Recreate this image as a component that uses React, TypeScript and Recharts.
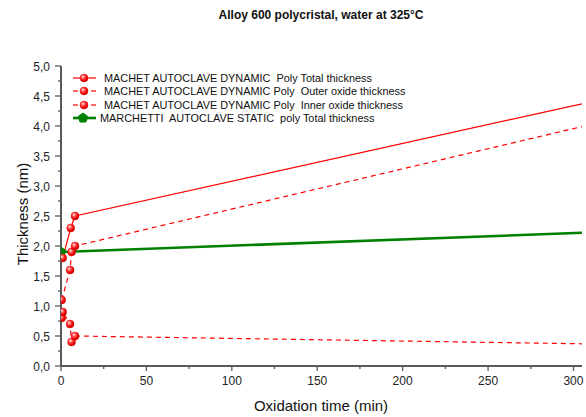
import { LineChart, Line, XAxis, YAxis, Legend } from 'recharts';

// Alloy 600 oxide thickness vs oxidation time
const totalTime = [1, 5.7, 8.2, 305];
const totalThickness = [1.8, 2.3, 2.5, 4.37];

const outerTime = [0.4, 5.3, 6.2, 8.2, 305];
const outerThickness = [1.1, 1.6, 1.9, 2.0, 3.99];

const innerTime = [0.4, 1, 5.3, 6.2, 8.2, 305];
const innerThickness = [0.8, 0.9, 0.7, 0.4, 0.5, 0.37];

const staticTime = [0, 305];
const staticThickness = [1.9, 2.22];

const xTicks = [0, 25, 50, 75, 100, 125, 150, 175, 200, 225, 250, 275, 300];
const yTicks = [0, 0.25, 0.5, 0.75, 1, 1.25, 1.5, 1.75, 2, 2.25, 2.5, 2.75, 3, 3.25, 3.5, 3.75, 4, 4.25, 4.5, 4.75, 5];

const toPoints = (t: number[], v: number[]) => t.map((time, i) => ({ time, value: v[i] }));

const totalData = toPoints(totalTime, totalThickness);
const outerData = toPoints(outerTime, outerThickness);
const innerData = toPoints(innerTime, innerThickness);
const staticData = toPoints(staticTime, staticThickness);

const FONT = '"Liberation Sans", Arial, sans-serif';
const RED = '#ff0000';
const GREEN = '#008000';
const AXIS = '#5a5a5a';

const series = [
  { name: 'MACHET AUTOCLAVE DYNAMIC  Poly Total thickness', color: RED, dash: undefined, marker: 'ball', width: 1.2 },
  { name: 'MACHET AUTOCLAVE DYNAMIC Poly  Outer oxide thickness', color: RED, dash: '5 4', marker: 'ball', width: 1.2 },
  { name: 'MACHET AUTOCLAVE DYNAMIC Poly  Inner oxide thickness', color: RED, dash: '5 4', marker: 'ball', width: 1.2 },
  { name: 'MARCHETTI  AUTOCLAVE STATIC  poly Total thickness', color: GREEN, dash: undefined, marker: 'pentagon', width: 2.6 },
];

function Ball({ cx, cy, r = 4 }: { cx: number; cy: number; r?: number }) {
  return (
    <g>
      <defs>
        <radialGradient id="redBall" cx="38%" cy="35%" r="70%">
          <stop offset="0%" stopColor="#ffffff" />
          <stop offset="28%" stopColor="#ff6060" />
          <stop offset="70%" stopColor="#f00000" />
          <stop offset="100%" stopColor="#b80000" />
        </radialGradient>
      </defs>
      <circle cx={cx} cy={cy} r={r} fill="url(#redBall)" stroke="#e00000" strokeWidth={0.4} />
    </g>
  );
}

function Pentagon({ cx, cy, r = 5 }: { cx: number; cy: number; r?: number }) {
  const pts = [0, 1, 2, 3, 4]
    .map((i) => {
      const a = -Math.PI / 2 + (i * 2 * Math.PI) / 5;
      return `${cx + r * Math.cos(a)},${cy + r * Math.sin(a)}`;
    })
    .join(' ');
  return <polygon points={pts} fill={GREEN} stroke={GREEN} />;
}

// only the measured points get a marker, the far end point just carries the line
const redDot = (props: any) => {
  const { cx, cy, payload, index } = props;
  if (payload.time > 20) return <g key={`d${index}`} />;
  return <Ball key={`d${index}`} cx={cx} cy={cy} />;
};

const greenDot = (props: any) => {
  const { cx, cy, payload, index } = props;
  if (payload.time > 20) return <g key={`g${index}`} />;
  return <Pentagon key={`g${index}`} cx={cx} cy={cy} />;
};

const fmt = (v: number) => v.toFixed(1).replace('.', ',');

const XTick = (props: any) => {
  const { x, y, payload } = props;
  const major = payload.value % 50 === 0;
  return (
    <g>
      <line x1={x} x2={x} y1={y} y2={y + (major ? 5 : 3)} stroke={AXIS} strokeWidth={1.3} />
      {major && (
        <text x={x} y={y + 19} textAnchor="middle" fontSize={12} fontFamily={FONT} fill="#222">
          {payload.value}
        </text>
      )}
    </g>
  );
};

const YTick = (props: any) => {
  const { x, y, payload } = props;
  const major = Math.abs(payload.value * 2 - Math.round(payload.value * 2)) < 1e-6;
  return (
    <g>
      <line x1={x} x2={x - (major ? 6 : 3)} y1={y} y2={y} stroke={AXIS} strokeWidth={1.3} />
      {major && (
        <text x={x - 11} y={y + 4.5} textAnchor="end" fontSize={12} fontFamily={FONT} fill="#222">
          {fmt(payload.value)}
        </text>
      )}
    </g>
  );
};

const LegendBox = () => (
  <div style={{ fontFamily: FONT, fontSize: 10.9, color: '#111' }}>
    {series.map((s) => (
      <div key={s.name} style={{ display: 'flex', alignItems: 'center', height: 13.5, whiteSpace: 'pre' }}>
        <svg width={s.marker === 'pentagon' ? 29 : 33} height={12} style={{ marginRight: 2, flexShrink: 0 }}>
          {s.dash ? (
            <>
              <line x1={4} x2={9} y1={6} y2={6} stroke={s.color} strokeWidth={1.2} />
              <line x1={22} x2={27} y1={6} y2={6} stroke={s.color} strokeWidth={1.2} />
            </>
          ) : (
            <line x1={4} x2={27} y1={6} y2={6} stroke={s.color} strokeWidth={s.width} />
          )}
          {s.marker === 'ball' ? <Ball cx={15} cy={6} r={4} /> : <Pentagon cx={14} cy={6} r={5} />}
        </svg>
        <span>{s.name}</span>
      </div>
    ))}
  </div>
);

export default function App() {
  return (
    <div style={{ position: 'absolute', left: 0, top: 0, width: 586, height: 417, background: '#fff' }}>
      <div
        style={{
          position: 'absolute',
          top: 8,
          left: 321,
          transform: 'translateX(-50%)',
          fontFamily: FONT,
          fontSize: 12,
          fontWeight: 'bold',
          whiteSpace: 'nowrap',
          color: '#111',
        }}
      >
        Alloy 600 polycristal, water at 325°C
      </div>
      <div
        style={{
          position: 'absolute',
          left: 22,
          top: 214,
          transform: 'translate(-50%, -50%) rotate(-90deg)',
          fontFamily: FONT,
          fontSize: 15,
          whiteSpace: 'nowrap',
          color: '#111',
        }}
      >
        Thickness (nm)
      </div>
      <div
        style={{
          position: 'absolute',
          left: 321,
          top: 405,
          transform: 'translate(-50%, -50%)',
          fontFamily: FONT,
          fontSize: 15,
          whiteSpace: 'nowrap',
          color: '#111',
        }}
      >
        Oxidation time (min)
      </div>
      <LineChart width={586} height={417} margin={{ top: 66, right: 4, bottom: 21, left: 11 }}>
        <XAxis
          type="number"
          dataKey="time"
          domain={[0, 305]}
          allowDataOverflow
          ticks={xTicks}
          interval={0}
          tick={<XTick />}
          tickLine={false}
          tickSize={0}
          tickMargin={0}
          height={30}
          axisLine={{ stroke: AXIS, strokeWidth: 2 }}
        />
        <YAxis
          type="number"
          dataKey="value"
          domain={[0, 5]}
          allowDataOverflow
          ticks={yTicks}
          interval={0}
          tick={<YTick />}
          tickLine={false}
          tickSize={0}
          tickMargin={0}
          width={50}
          axisLine={{ stroke: AXIS, strokeWidth: 2 }}
        />
        <Legend
          layout="vertical"
          align="center"
          verticalAlign="middle"
          wrapperStyle={{ left: 69, top: 71, width: 400 }}
          content={() => <LegendBox />}
        />
        <Line
          data={staticData}
          dataKey="value"
          name={series[3].name}
          stroke={GREEN}
          strokeWidth={2.6}
          dot={greenDot}
          activeDot={false}
          isAnimationActive={false}
        />
        <Line
          data={innerData}
          dataKey="value"
          name={series[2].name}
          stroke={RED}
          strokeWidth={1.2}
          strokeDasharray="5 4"
          dot={redDot}
          activeDot={false}
          isAnimationActive={false}
        />
        <Line
          data={outerData}
          dataKey="value"
          name={series[1].name}
          stroke={RED}
          strokeWidth={1.2}
          strokeDasharray="5 4"
          dot={redDot}
          activeDot={false}
          isAnimationActive={false}
        />
        <Line
          data={totalData}
          dataKey="value"
          name={series[0].name}
          stroke={RED}
          strokeWidth={1.2}
          dot={redDot}
          activeDot={false}
          isAnimationActive={false}
        />
      </LineChart>
    </div>
  );
}
